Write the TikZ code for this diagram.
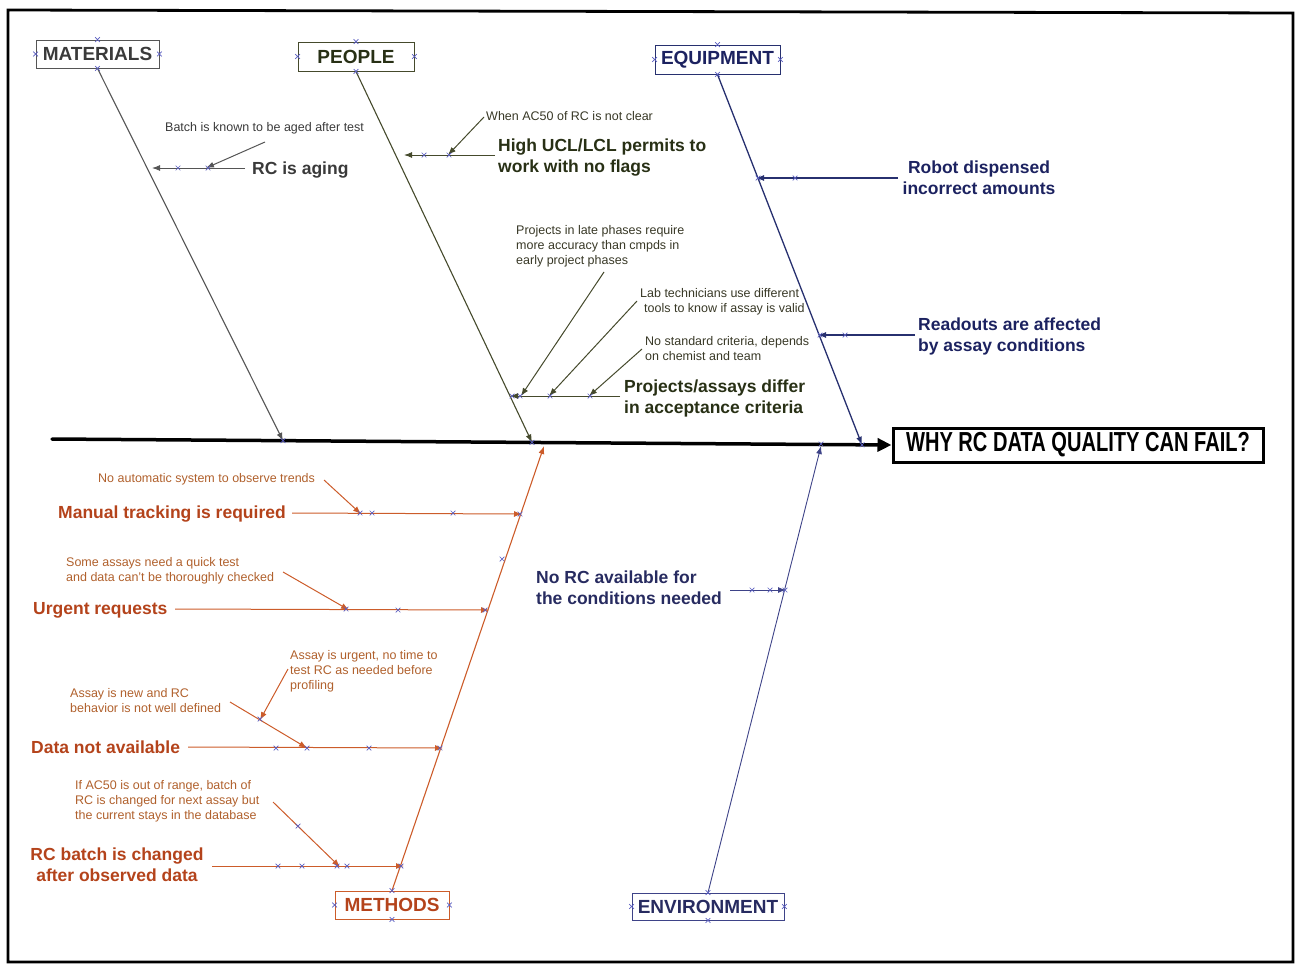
\documentclass[tikz,border=0pt]{standalone}
\usepackage{fontspec}
\setmainfont{Liberation Sans}
\newfontfamily\headfont[FakeStretch=0.73]{Liberation Sans}
\usetikzlibrary{arrows.meta,shapes.misc}

% category palettes
\definecolor{matc}{HTML}{3A3A3A}
\definecolor{matl}{HTML}{555555}
\definecolor{peoc}{HTML}{283015}
\definecolor{peos}{HTML}{383826}
\definecolor{peol}{HTML}{454A2C}
\definecolor{equc}{HTML}{1C2260}
\definecolor{equl}{HTML}{27306F}
\definecolor{metc}{HTML}{B4431B}
\definecolor{mets}{HTML}{B0602C}
\definecolor{metl}{HTML}{CC5C2A}
\definecolor{envc}{HTML}{272B60}
\definecolor{envl}{HTML}{3E4388}
\definecolor{hdl}{HTML}{5A5EC0}

\tikzset{
  causetxt/.style={font=\fontsize{17.5}{20.5}\selectfont\bfseries, inner sep=0pt, align=left, anchor=north west},
  subtxt/.style={font=\fontsize{12.5}{15}\selectfont, inner sep=0pt, align=left, anchor=north west},
  catbox/.style={draw, line width=0.9pt, inner sep=0pt, minimum height=28pt,
                 font=\fontsize{19}{22}\selectfont\bfseries},
  tip/.style={-{Latex[length=8pt,width=6pt]}},
  bone/.style={line width=1.1pt, tip},
  twig/.style={line width=1pt, tip},
  handle/.style={draw=hdl, cross out, minimum size=4pt, inner sep=0pt, line width=0.7pt},
}

\begin{document}
\begin{tikzpicture}[x=1pt,y=-1pt]
\useasboundingbox (0,0) rectangle (1296,964);

% page frame
\draw[line width=2.8pt, line join=miter] (8,10) -- (1293,13) -- (1293,962) -- (8,962) -- cycle;

% head and spine
\node[draw, line width=3pt, minimum width=370pt, minimum height=34pt, inner sep=0pt,
      font=\fontsize{27.5}{30}\headfont\bfseries] (head) at (1078,445) {WHY RC DATA QUALITY CAN FAIL?};
\coordinate (tail) at (52,439);
\draw[line width=3.5pt, line cap=round, -{Triangle[length=14pt,width=13pt]}] (tail) -- (head.west);

% category boxes
\node[catbox, draw=matl, text=matc, minimum width=123pt] (mat) at (97.5,54) {MATERIALS};
\node[catbox, draw=peol, text=peoc, minimum width=116pt, minimum height=29pt] (peo) at (356,56.5) {PEOPLE};
\node[catbox, draw=equl, text=equc, minimum width=125pt, minimum height=29pt] (equ) at (717.5,59.5) {EQUIPMENT};
\node[catbox, draw=metl, text=metc, minimum width=114pt] (met) at (392,905) {METHODS};
\node[catbox, draw=envl, text=envc, minimum width=152pt, minimum height=27pt] (env) at (708,906.5) {ENVIRONMENT};

% points where the bones meet the spine
\coordinate (matj) at (283,440.7);
\coordinate (peoj) at (532,442.4);
\coordinate (equj) at (862,444.8);
\coordinate (metj) at (544,446);
\coordinate (envj) at (821,446);

\draw[bone, draw=matl] (mat.south) -- (matj);
\draw[bone, draw=peol] (peo.south) -- (peoj);
\draw[bone, draw=equl, line width=1.3pt] (equ.south) -- (equj);
\draw[bone, draw=metl] (met.north) -- (metj);
\draw[bone, draw=envl, line width=0.9pt] (env.north) -- (envj);

% ---------- MATERIALS ----------
\node[subtxt, text=matc] (m1s) at (165,122.5) {Batch is known to be aged after test};
\node[causetxt, text=matc] (m1) at (252,161.7) {RC is aging};
\coordinate (m1a) at (245,168); \coordinate (m1b) at (152,168);
\coordinate (m1sa) at (265,142); \coordinate (m1sb) at (206,168);
\draw[twig, draw=matl] (m1a) -- (m1b);
\draw[twig, draw=matl] (m1sa) -- (m1sb);

% ---------- PEOPLE ----------
\node[subtxt, text=peos] (p1s) at (486,111.5) {When AC50 of RC is not clear};
\node[causetxt, text=peoc] (p1) at (498,138.7) {High UCL/LCL permits to\\work with no flags};
\coordinate (p1a) at (495,155); \coordinate (p1b) at (404,155);
\coordinate (p1sa) at (484,117); \coordinate (p1sb) at (448,155);
\draw[twig, draw=peol] (p1a) -- (p1b);
\draw[twig, draw=peol] (p1sa) -- (p1sb);

\node[subtxt, text=peos] (p2s1) at (516,225.5) {Projects in late phases require\\more accuracy than cmpds in\\early project phases};
\node[subtxt, text=peos] (p2s2) at (640,288.5) {Lab technicians use different\\\hspace*{4pt}tools to know if assay is valid};
\node[subtxt, text=peos] (p2s3) at (645,336.5) {No standard criteria, depends\\on chemist and team};
\node[causetxt, text=peoc] (p2) at (624,379.7) {Projects/assays differ\\in acceptance criteria};
\coordinate (p2a) at (620,396); \coordinate (p2b) at (510,396);
\coordinate (p2s1a) at (604,272); \coordinate (p2s1b) at (521,396);
\coordinate (p2s2a) at (637,301); \coordinate (p2s2b) at (549,396);
\coordinate (p2s3a) at (642,349); \coordinate (p2s3b) at (589,396);
\draw[twig, draw=peol] (p2a) -- (p2b);
\draw[twig, draw=peol] (p2s1a) -- (p2s1b);
\draw[twig, draw=peol] (p2s2a) -- (p2s2b);
\draw[twig, draw=peol] (p2s3a) -- (p2s3b);

% ---------- EQUIPMENT ----------
\node[causetxt, text=equc, align=center, anchor=north] (e1) at (979,160.7) {Robot dispensed\\incorrect amounts};
\node[causetxt, text=equc] (e2) at (918,317.7) {Readouts are affected\\by assay conditions};
\coordinate (e1a) at (898,178); \coordinate (e1b) at (756,178);
\coordinate (e2a) at (915,335); \coordinate (e2b) at (818,335);
\draw[twig, draw=equl, line width=1.2pt] (e1a) -- (e1b);
\draw[twig, draw=equl, line width=1.2pt] (e2a) -- (e2b);

% ---------- METHODS ----------
\node[subtxt, text=mets] (t1s) at (98,473.5) {No automatic system to observe trends};
\node[causetxt, text=metc] (t1) at (58,505.7) {Manual tracking is required};
\coordinate (t1a) at (292,513); \coordinate (t1b) at (522,514);
\coordinate (t1sa) at (324,480); \coordinate (t1sb) at (361,514);
\draw[twig, draw=metl] (t1a) -- (t1b);
\draw[twig, draw=metl] (t1sa) -- (t1sb);

\node[subtxt, text=mets] (t2s) at (66,557.5) {Some assays need a quick test\\and data can't be thoroughly checked};
\node[causetxt, text=metc] (t2) at (33,602.7) {Urgent requests};
\coordinate (t2a) at (175,609); \coordinate (t2b) at (489,610);
\coordinate (t2sa) at (283,572); \coordinate (t2sb) at (349,610);
\draw[twig, draw=metl] (t2a) -- (t2b);
\draw[twig, draw=metl] (t2sa) -- (t2sb);

\node[subtxt, text=mets] (t3s2) at (290,650.5) {Assay is urgent, no time to\\test RC as needed before\\profiling};
\node[subtxt, text=mets] (t3s1) at (70,688.5) {Assay is new and RC\\behavior is not well defined};
\node[causetxt, text=metc] (t3) at (31,740.7) {Data not available};
\coordinate (t3a) at (188,747); \coordinate (t3b) at (443,748);
\coordinate (t3s1a) at (230,702); \coordinate (t3s1b) at (307,748);
\coordinate (t3s2a) at (288,669); \coordinate (t3s2b) at (260,720);
\draw[twig, draw=metl] (t3a) -- (t3b);
\draw[twig, draw=metl] (t3s1a) -- (t3s1b);
\draw[twig, draw=metl] (t3s2a) -- (t3s2b);

\node[subtxt, text=mets] (t4s) at (75,780.5) {If AC50 is out of range, batch of\\RC is changed for next assay but\\the current stays in the database};
\node[causetxt, text=metc, align=center, anchor=north] (t4) at (117,847.7) {RC batch is changed\\after observed data};
\coordinate (t4a) at (212,866); \coordinate (t4b) at (404,866);
\coordinate (t4sa) at (273,802); \coordinate (t4sb) at (340,867);
\draw[twig, draw=metl] (t4a) -- (t4b);
\draw[twig, draw=metl] (t4sa) -- (t4sb);

% ---------- ENVIRONMENT ----------
\node[causetxt, text=envc] (v1) at (536,570.7) {No RC available for\\the conditions needed};
\coordinate (v1a) at (730,590); \coordinate (v1b) at (786,590);
\draw[twig, draw=envl, line width=0.9pt] (v1a) -- (v1b);

% connection handles on the boxes
\foreach \b in {mat,peo,equ,met,env}
  \foreach \a in {north,south,east,west}
    \node[handle] (\b-\a) at (\b.\a) {};

% connection handles along the lines
\foreach \x/\y [count=\i] in {178/168, 208/168, 424/155, 449/155, 512/396, 520/396, 550/396, 590/396,
    758/178, 795/178, 820/335, 845/335, 283/440.7, 532/442.4, 862/444.8, 821/444,
    360/513, 372/513, 453/513, 520/514, 502/559, 346/609, 398/610, 485/610,
    276/748, 307/748, 369/748, 440/748, 260/719, 298/826,
    278/866, 302/866, 337/866, 347/866, 401/866,
    752/590, 770/590, 785/590}
  \node[handle] (h\i) at (\x,\y) {};

\end{tikzpicture}
\end{document}
